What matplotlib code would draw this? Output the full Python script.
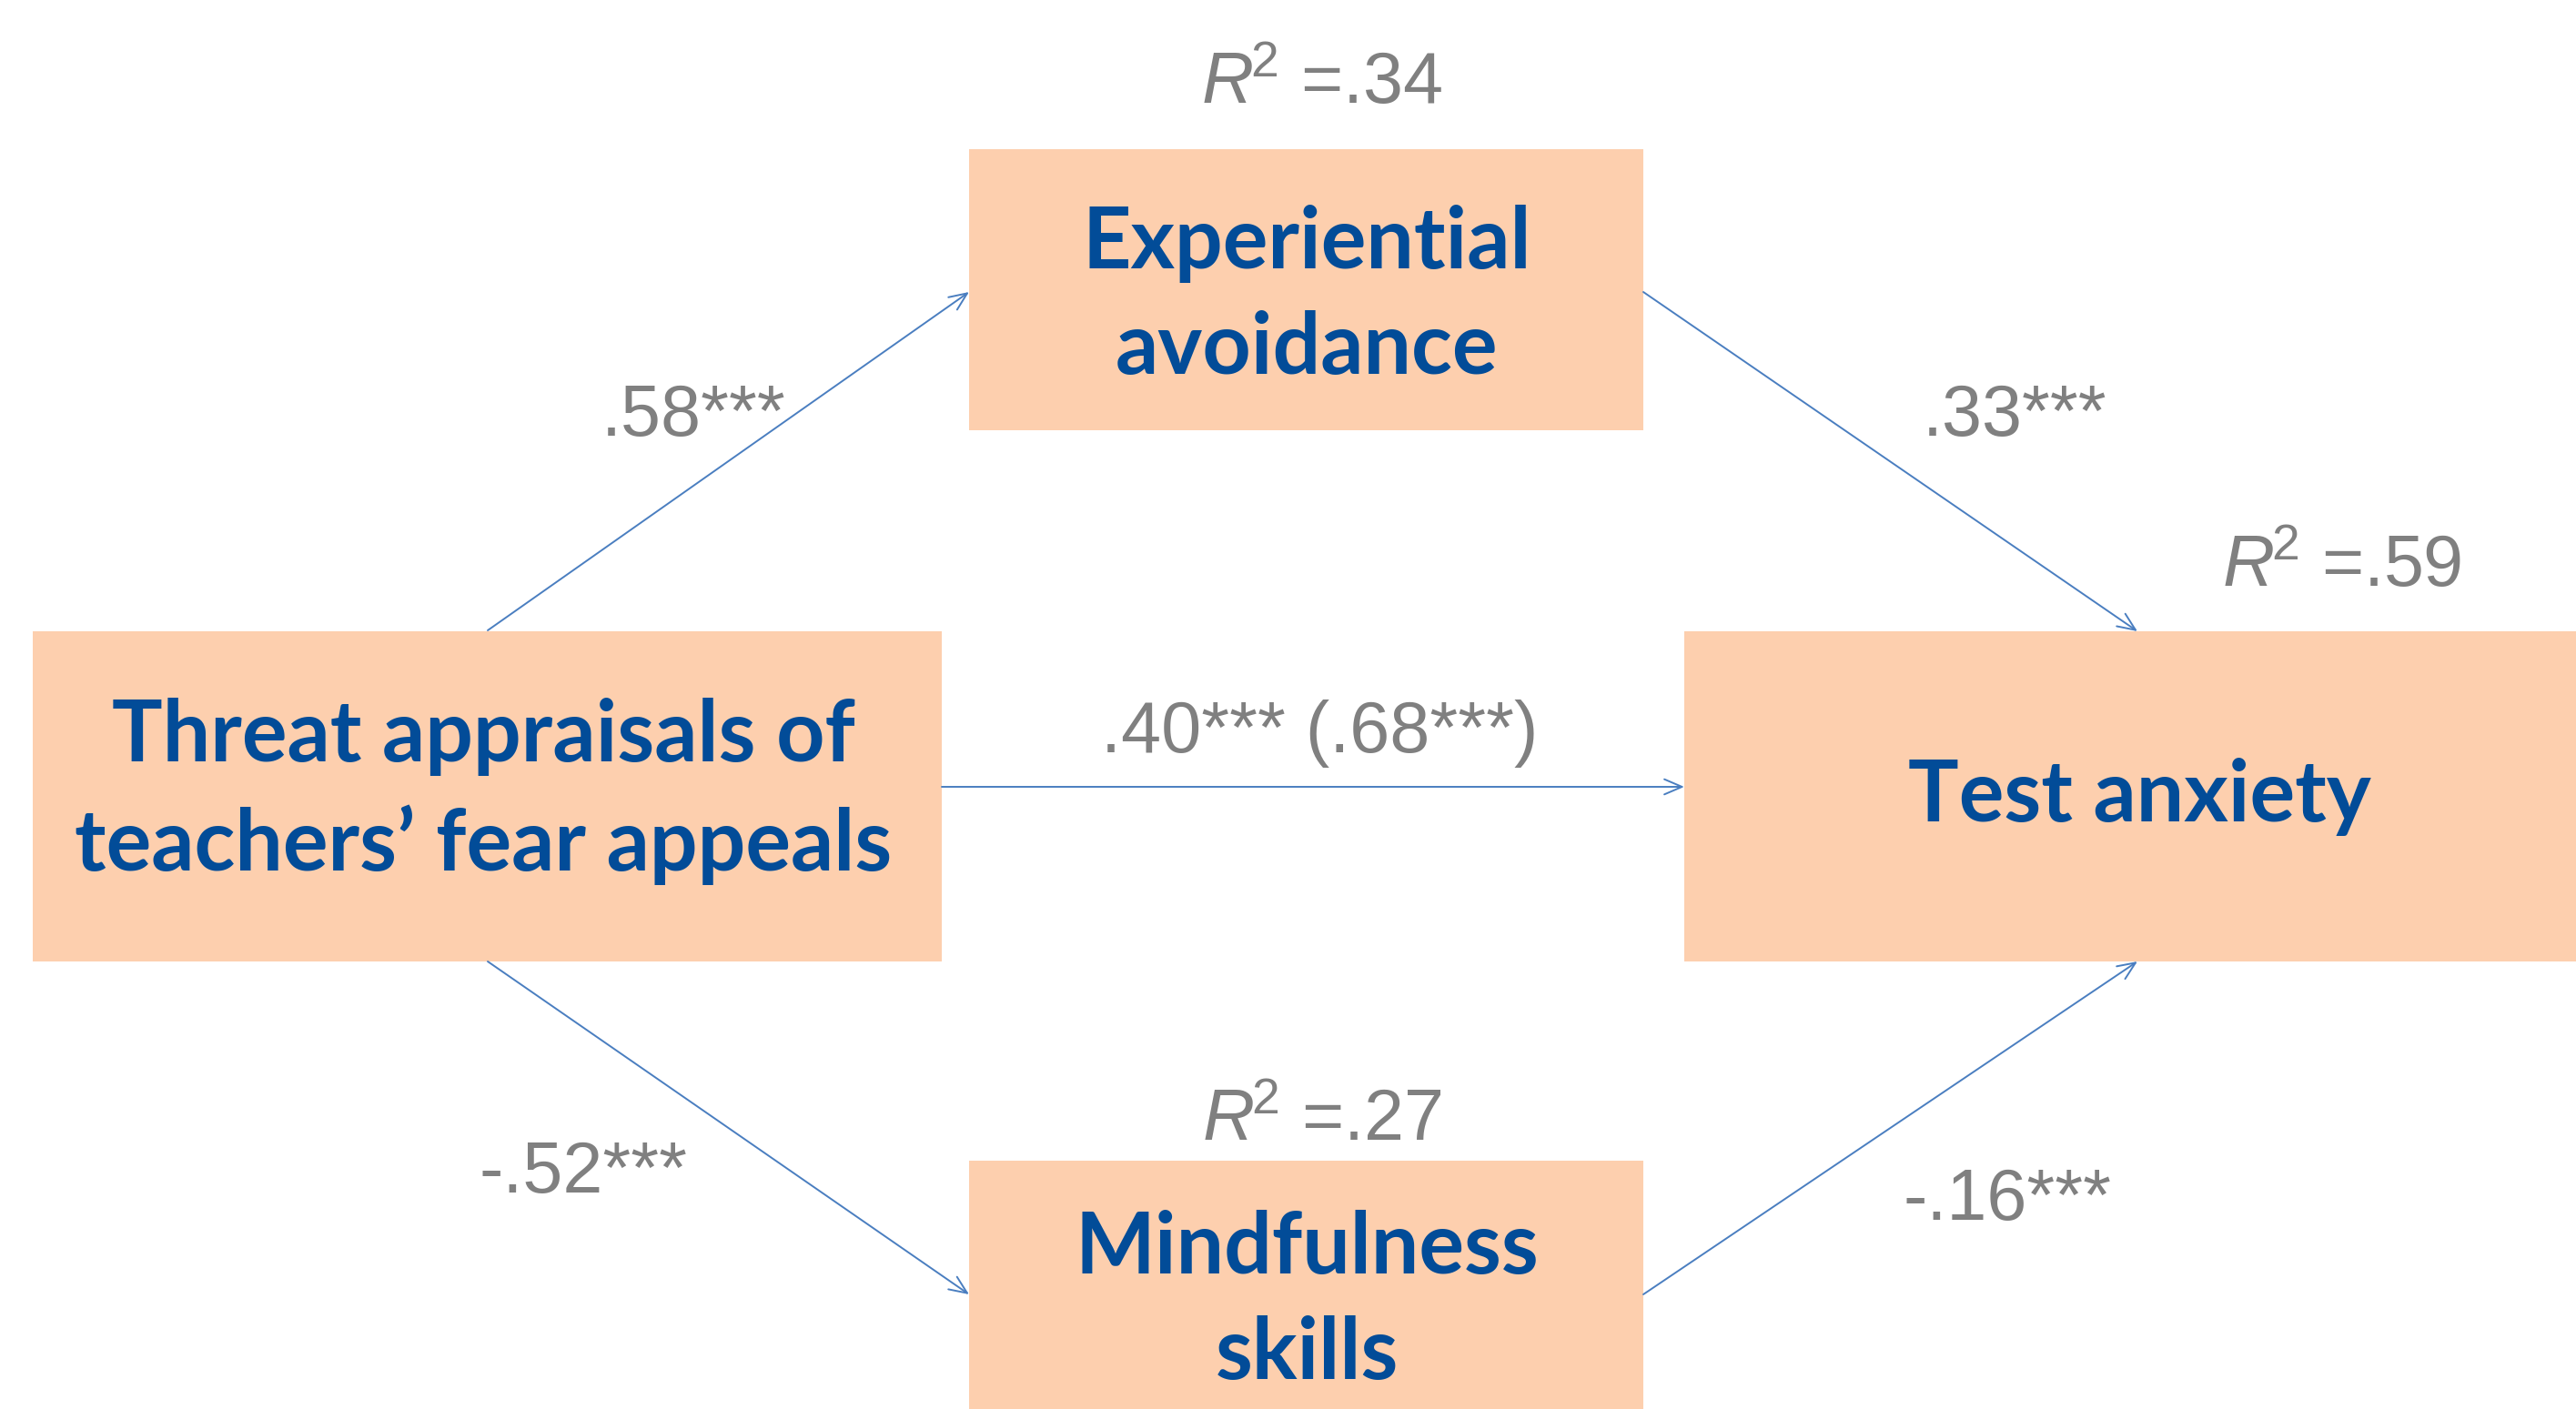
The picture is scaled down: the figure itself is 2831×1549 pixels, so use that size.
import matplotlib
matplotlib.use("Agg")
import matplotlib.pyplot as plt
from matplotlib.patches import Rectangle

# ---- data ----
node_labels = ["Threat appraisals of\nteachers\u2019 fear appeals",
               "Experiential\navoidance",
               "Mindfulness\nskills",
               "Test anxiety"]
r2_values = [".34", ".27", ".59"]          # experiential, mindfulness, test anxiety
path_labels = [".58***", ".33***", "-.52***", "-.16***", ".40*** (.68***)"]

# ---- style ----
W, H = 2831, 1549
BOX = "#FDCFAE"
BLUE = "#024C98"
GRAY = "#808080"
ARROW = "#4A7EC0"

plt.rcParams['mathtext.fontset'] = 'custom'
plt.rcParams['mathtext.rm'] = 'Liberation Sans'
plt.rcParams['mathtext.it'] = 'Liberation Sans:italic'

fig = plt.figure(figsize=(W / 100, H / 100), dpi=100)
ax = fig.add_axes([0, 0, 1, 1])
ax.set_xlim(0, W)
ax.set_ylim(H, 0)
ax.axis("off")

# boxes: (x0, y0, x1, y1) in pixel layout
boxes = {
    "threat": (36, 694, 1035, 1057),
    "exp": (1065, 164, 1806, 473),
    "mind": (1065, 1276, 1806, 1560),
    "test": (1851, 694, 2860, 1057),
}
for b in boxes.values():
    ax.add_patch(Rectangle((b[0], b[1]), b[2] - b[0], b[3] - b[1],
                           facecolor=BOX, edgecolor="none", zorder=1))

box_font = dict(family="Lato", weight="bold", color=BLUE, fontsize=67,
                ha="center", va="center", linespacing=1.42, zorder=3)
ax.text(531, 870, node_labels[0], **box_font)
ax.text(1436, 326, node_labels[1], **box_font)
ax.text(1436, 1431, node_labels[2], **box_font)
ax.text(2351, 876, node_labels[3], **box_font)

# arrows
arrows = [
    ((536, 693), (1065, 321)),
    ((1806, 321), (2349, 694)),
    ((1035, 865), (1851, 865)),
    ((536, 1057), (1065, 1423)),
    ((1806, 1423), (2349, 1057)),
]
for s, e in arrows:
    ax.annotate("", xy=e, xytext=s,
                arrowprops=dict(arrowstyle="->,head_length=0.7,head_width=0.3",
                                color=ARROW, lw=1.4, shrinkA=0, shrinkB=0,
                                mutation_scale=20), zorder=2)

gfont = dict(family="Liberation Sans", color=GRAY, fontsize=57,
             ha="center", va="center")
label_pos = [(762, 458), (2214, 458), (641, 1290), (2206, 1321), (1450, 806)]
for lab, p in zip(path_labels, label_pos):
    ax.text(p[0], p[1], lab, **gfont)

r2_pos = [(1453, 93), (1453, 1234), (2573, 624)]
for v, p in zip(r2_values, r2_pos):
    ax.text(p[0], p[1], r"$\mathit{R}^{\!2}$ =" + v, **gfont)

fig.savefig("out.png", dpi=100, facecolor="white")
